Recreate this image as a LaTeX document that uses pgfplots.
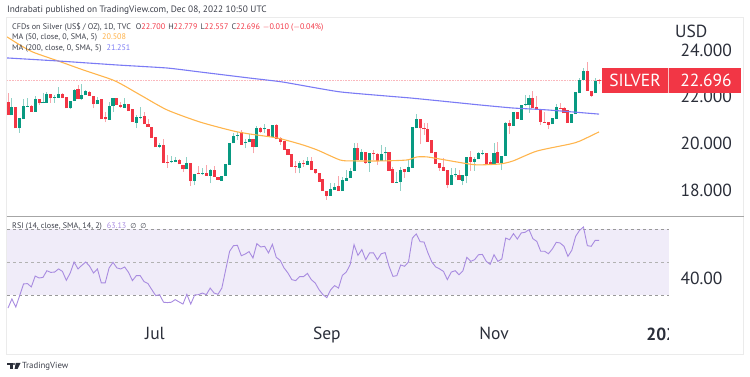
\documentclass[border=0pt]{standalone}
\usepackage{fontspec}
\usepackage{pgfplots}
\usepackage{pgfplotstable}
\pgfplotsset{compat=1.18}
\setmainfont{PT Sans}
\newfontfamily\symf{DejaVu Sans}
\definecolor{tvgreen}{HTML}{089981}
\definecolor{tvred}{HTML}{F23645}
\definecolor{maorange}{HTML}{FFB54D}
\definecolor{mablue}{HTML}{7B7BF5}
\definecolor{rsiline}{HTML}{A88BE0}
\definecolor{rsiband}{HTML}{F0ECF9}
\definecolor{txt}{HTML}{3C3F4A}
\definecolor{dark}{HTML}{2A2E39}
\pgfplotstableread{
i o h l c
2 21.22 21.96 21.22 21.58
4 20.65 21.08 20.47 21.08
5 21.05 21.89 21.05 21.61
6 21.58 21.93 21.55 21.62
8 21.37 22.03 21.37 21.89
10 21.72 22.18 21.72 21.79
11 21.75 22.19 21.75 22.11
13 21.96 22.08 21.75 22.01
14 21.96 22.43 21.96 22.12
17 21.51 21.82 21.48 21.82
18 21.81 22.32 21.81 22.29
20 21.89 22.55 21.86 22.08
21 22.06 22.29 22.06 22.25
24 21.68 21.98 21.68 21.86
27 21.01 21.79 21.01 21.61
28 21.61 21.95 21.37 21.93
31 21.54 21.93 21.54 21.69
34 20.90 21.22 20.65 21.12
35 21.11 21.55 21.05 21.15
40 19.87 20.01 19.80 19.94
43 19.20 19.48 19.17 19.26
44 19.23 19.44 19.20 19.30
47 18.90 19.41 18.90 19.19
49 18.40 18.70 18.23 18.70
51 18.70 18.94 18.66 18.76
53 18.63 18.90 18.30 18.87
56 18.42 18.63 18.42 18.63
57 18.62 19.11 18.62 19.11
58 19.09 20.01 19.09 20.01
59 20.01 20.44 20.01 20.34
60 20.33 20.51 20.15 20.37
62 20.01 20.18 19.80 20.05
63 20.05 20.41 20.05 20.18
65 19.84 20.75 19.84 20.65
67 20.61 20.84 20.44 20.65
69 20.27 20.80 20.27 20.80
76 18.94 19.27 18.73 19.16
78 19.09 19.44 19.09 19.27
84 17.78 18.30 17.78 18.05
85 18.02 18.33 18.02 18.16
87 17.97 18.59 17.97 18.44
88 18.42 18.87 18.42 18.54
89 18.52 18.94 18.52 18.84
90 18.83 20.04 18.83 19.83
92 19.30 19.76 19.30 19.66
94 19.16 19.61 18.80 19.61
97 19.26 19.94 19.26 19.55
98 19.58 19.87 19.26 19.65
101 18.34 18.80 18.34 18.37
102 18.34 19.01 17.99 18.87
104 18.80 19.30 18.80 18.99
105 18.97 20.70 18.97 20.70
106 20.65 21.27 20.65 21.05
115 18.23 18.94 18.23 18.66
116 18.64 18.94 18.56 18.70
118 18.42 18.66 18.23 18.66
119 18.62 19.41 18.30 19.41
121 19.23 19.44 18.83 19.34
122 19.33 19.65 19.33 19.58
123 19.57 19.73 19.50 19.61
126 19.11 20.04 19.11 19.61
128 19.17 19.47 18.87 19.47
129 19.47 20.94 19.47 20.87
131 20.77 21.33 20.77 21.33
133 21.01 21.65 21.01 21.65
134 21.65 22.08 21.60 21.69
135 21.65 22.08 21.32 21.96
141 20.82 21.08 20.82 21.08
142 21.05 21.68 21.05 21.55
146 20.89 21.25 20.89 21.25
147 21.25 22.19 21.25 22.19
148 22.15 22.82 22.15 22.72
149 22.72 23.22 22.72 23.10
152 22.16 22.79 22.16 22.67
}\upc
\pgfplotstableread{
i o h l c
1 21.79 22.15 21.22 21.22
3 21.58 21.58 20.65 20.65
7 21.61 21.63 21.35 21.37
9 21.91 21.91 21.65 21.72
12 22.11 22.13 21.75 21.93
15 22.12 22.15 21.93 21.96
16 21.98 21.98 21.51 21.51
19 22.32 22.50 21.89 21.89
22 22.22 22.25 22.03 22.03
23 22.03 22.03 21.51 21.68
25 21.89 21.89 21.04 21.04
26 21.12 21.37 20.91 21.04
29 21.93 21.95 21.65 21.65
30 21.65 21.79 21.54 21.58
32 21.69 21.71 21.39 21.39
33 21.46 21.46 20.94 20.94
36 21.18 21.34 20.82 20.82
37 20.82 21.05 20.70 20.70
38 20.72 20.72 20.25 20.25
39 20.30 20.30 19.84 19.84
41 19.94 20.18 19.19 19.19
42 19.23 19.51 18.97 19.19
45 19.30 19.33 19.11 19.11
46 19.09 19.09 18.80 18.90
48 19.19 19.19 18.19 18.40
50 18.74 19.04 18.70 18.70
52 18.76 19.09 18.63 18.63
54 18.87 19.04 18.59 18.59
55 18.59 18.59 18.43 18.45
61 20.51 20.58 19.94 19.94
64 20.18 20.18 19.58 19.87
66 20.65 20.72 20.44 20.51
68 20.61 20.61 20.30 20.30
70 20.80 20.83 20.18 20.18
71 20.23 20.30 19.94 20.08
72 20.13 20.13 19.73 19.73
73 19.76 19.76 19.51 19.51
74 19.54 19.54 19.01 19.01
75 19.04 19.27 18.73 18.99
77 19.19 19.30 19.01 19.11
79 19.26 19.44 18.87 18.87
80 18.90 18.90 18.70 18.73
81 18.76 18.76 18.37 18.37
82 18.49 18.49 17.97 17.97
83 17.99 17.99 17.59 17.76
86 18.19 18.61 17.97 17.97
91 19.80 20.01 19.30 19.30
93 19.66 19.66 19.13 19.16
95 19.61 19.73 19.30 19.56
96 19.55 19.58 19.09 19.26
99 19.65 19.65 18.84 18.84
100 18.90 19.01 18.33 18.33
103 18.91 18.91 18.52 18.80
107 21.05 21.05 19.97 20.65
108 20.65 20.89 20.37 20.61
109 20.62 20.87 20.08 20.08
110 20.15 20.15 19.58 19.58
111 19.65 19.65 19.13 19.13
112 19.16 19.16 18.84 18.97
113 19.01 19.37 18.84 18.84
114 18.87 18.87 18.09 18.23
117 18.66 18.87 18.44 18.44
120 19.41 19.68 18.83 19.23
124 19.61 19.61 19.11 19.11
125 19.23 19.30 19.08 19.11
127 19.63 20.08 19.19 19.19
130 20.87 21.01 20.41 20.77
132 21.36 21.36 21.04 21.04
136 21.96 22.25 21.51 21.51
137 21.55 22.05 21.44 21.44
138 21.46 21.46 20.80 20.94
139 20.94 21.33 20.89 20.89
140 20.94 20.94 20.62 20.80
143 21.54 21.72 21.49 21.49
144 21.51 21.58 21.29 21.29
145 21.43 21.43 20.89 20.89
150 23.10 23.50 22.25 22.25
151 22.25 22.25 22.00 22.05
153 22.700 22.779 22.557 22.696
}\downc
\pgfplotstableread{
i v
1 22.1
2 27.6
3 22.7
4 29.6
5 36.7
6 36.9
7 34.9
8 41.5
9 40.3
10 40.7
11 44.7
12 43.7
13 43.9
14 45.8
15 44.3
16 38.9
17 43.3
18 50
19 45.8
20 48
21 50
22 47.4
23 43.3
24 45.8
25 37.3
26 37.3
27 46.4
28 49.8
29 46.4
30 45.8
31 47
32 43.7
33 38.7
34 41.7
35 41.7
36 38.1
37 36.9
38 33.2
39 29.6
40 30.2
41 25.6
42 25.4
43 25.6
44 27.2
45 25.8
46 24.5
47 30.4
48 24.5
49 30
50 30.2
51 31.2
52 30.2
53 34.2
54 31.2
55 30.4
56 34.2
57 45.4
58 56.5
59 59.9
60 60.1
61 53.8
62 54.8
63 56.3
64 52.4
65 61.1
66 59.1
67 59.5
68 55.5
69 60.7
70 52.8
71 51
72 46.4
73 43.3
74 39.3
75 38.7
76 41.1
77 41.1
78 43.1
79 39.3
80 37.3
81 33.2
82 30.2
83 28.4
84 33.2
85 35.7
86 34.2
87 41.9
88 43.9
89 48.4
90 60.5
91 54
92 57.5
93 51.4
94 55.5
95 55.5
96 51.4
97 55
98 55.7
99 47.4
100 41.3
101 41.7
102 48.2
103 47.4
104 50
105 64.5
106 67
107 62.3
108 62.1
109 55.5
110 50
111 47
112 45.8
113 44.3
114 39.3
115 43.9
116 44.7
117 42.3
118 44.7
119 52.8
120 50.4
121 51.4
122 54.4
123 54.6
124 50.4
125 48.6
126 54.4
127 50.4
128 51.8
129 64.5
130 63.5
131 67.2
132 63.9
133 67.6
134 68
135 69.6
136 64.1
137 62.5
138 56.5
139 56.5
140 55
141 57.9
142 61.9
143 61.5
144 59.5
145 53.4
146 57.1
147 65.6
148 69.2
149 71.2
150 59.9
151 59.5
152 63.1
153 63.13
}\rsi
\begin{document}
\begin{tikzpicture}[x=1pt,y=1pt]
\path[use as bounding box] (0,0) rectangle (750,377);
% panel frame
\draw[color=black!8,line width=.7pt] (6.5,23) rectangle (743.5,360);
\node[anchor=west,inner sep=0pt,font=\fontsize{9.3}{10}\selectfont,text=txt] at (7,367) {Indrabati published on TradingView.com, Dec 08, 2022 10:50 UTC};
% price pane
\begin{axis}[
  at={(7pt,161pt)},anchor=south west,scale only axis,
  width=662pt,height=199pt,
  xmin=0.743,xmax=171,ymin=16.906,ymax=25.41,
  axis line style={draw=none},tick style={draw=none},
  xtick=\empty,
  ytick={18,20,22,24},yticklabels={18.000,20.000,22.000,24.000},
  yticklabel pos=right,
  yticklabel style={font=\fontsize{17.5}{18}\selectfont,text=dark,anchor=west,xshift=8pt},
]
\addplot[draw=tvred!35,line width=.6pt,densely dotted] coordinates {(0.743,22.696) (171,22.696)};
\addplot[draw=none,mark=none,error bars/.cd,y dir=plus,y explicit,error mark=none,error bar style={line width=.9pt,draw=tvgreen!45!white}]
  table[x=i,y=l,y error plus expr=\thisrow{h}-\thisrow{l}] {\upc};
\addplot[draw=none,mark=none,error bars/.cd,y dir=plus,y explicit,error mark=none,error bar style={line width=.9pt,draw=tvred!45!white}]
  table[x=i,y=l,y error plus expr=\thisrow{h}-\thisrow{l}] {\downc};
\addplot[draw=none,mark=none,error bars/.cd,y dir=plus,y explicit,error mark=none,error bar style={line width=3.1pt,draw=tvgreen}]
  table[x=i,y=o,y error plus expr=\thisrow{c}-\thisrow{o}] {\upc};
\addplot[draw=none,mark=none,error bars/.cd,y dir=plus,y explicit,error mark=none,error bar style={line width=3.1pt,draw=tvred}]
  table[x=i,y=c,y error plus expr=\thisrow{o}-\thisrow{c}] {\downc};
\addplot[maorange,line width=1.1pt,smooth,tension=.4] coordinates {
(0.75,24.56) (4.1,24.21) (7.4,23.91) (13.9,23.53) (20.3,23.15) (28.5,22.68) (35,22.08) (41.9,21.44) (50.4,20.92) (58.9,20.54) (63.2,20.41) (70.2,20.24) (76.1,19.98) (80.5,19.73) (86.4,19.30) (89.7,19.26) (97.5,19.26) (103.6,19.30) (106.2,19.43) (108.8,19.43) (112.1,19.34) (118,19.17) (121.6,19.09) (127.5,19.13) (130.9,19.26) (137,19.68) (145.5,19.98) (148.1,20.11) (153,20.50)};
\addplot[mablue,line width=1.1pt,smooth,tension=.3] coordinates {
(0.75,23.66) (13.9,23.53) (29,23.36) (41.9,23.23) (50.4,23.06) (63.2,22.80) (71.7,22.63) (86.4,22.21) (104.4,21.95) (114.7,21.78) (122.4,21.65) (130.9,21.52) (139.6,21.44) (153,21.26)};
\end{axis}
% RSI pane
\begin{axis}[
  at={(7pt,55pt)},anchor=south west,scale only axis,
  width=662pt,height=105pt,
  xmin=0.743,xmax=171,ymin=13.636,ymax=77.27,
  axis line style={draw=none},tick style={draw=none},
  xtick={38.8,83,126,169},xticklabels={Jul,Sep,Nov,\textbf{202}},
  xticklabel style={font=\fontsize{17.5}{18}\selectfont,text=dark,yshift=-2pt},
  ytick={40},yticklabels={40.00},
  yticklabel pos=right,
  yticklabel style={font=\fontsize{17.5}{18}\selectfont,text=dark,anchor=west,xshift=8pt},
]
\addplot[draw=none,fill=rsiband] coordinates {(0.743,30) (171,30) (171,70) (0.743,70)} -- cycle;
\addplot[black!40,line width=.6pt,dashed] coordinates {(0.743,70) (171,70)};
\addplot[black!30,line width=.6pt,dashed] coordinates {(0.743,50) (171,50)};
\addplot[black!40,line width=.6pt,dashed] coordinates {(0.743,30) (171,30)};
\addplot[rsiline,line width=.9pt] table[x=i,y=v] {\rsi};
\end{axis}
% the date scale is cut off where the price scale starts
\fill[white] (669,30) rectangle (678,54);
% pane separator
\draw[color=black!35,line width=.8pt] (6.5,160.5) -- (743.5,160.5);
% legends
\node[anchor=west,inner sep=0pt,font=\fontsize{8.1}{10}\selectfont,text=txt] at (12,350) {CFDs on Silver (US\$ / OZ), 1D, TVC\hspace{5pt}O\textcolor{tvred}{22.700}\hspace{3pt}H\textcolor{tvred}{22.779}\hspace{3pt}L\textcolor{tvred}{22.557}\hspace{3pt}C\textcolor{tvred}{22.696}\hspace{3pt}\textcolor{tvred}{$-$0.010 ($-$0.04\%)}};
\node[anchor=west,inner sep=0pt,font=\fontsize{8.1}{10}\selectfont,text=txt] at (12,339) {MA (50, close, 0, SMA, 5)\hspace{5pt}\textcolor{maorange!90!orange}{20.508}};
\node[anchor=west,inner sep=0pt,font=\fontsize{8.1}{10}\selectfont,text=txt] at (12,328.5) {MA (200, close, 0, SMA, 5)\hspace{5pt}\textcolor{mablue}{21.251}};
\node[anchor=west,inner sep=0pt,font=\fontsize{8.1}{10}\selectfont,text=txt] at (12,150) {RSI (14, close, SMA, 14, 2)\hspace{5pt}\textcolor{rsiline}{63.13}\hspace{4pt}{\symf\fontsize{7}{9}\selectfont ∅\hspace{4pt}∅}};
% axis unit
\node[anchor=west,inner sep=0pt,font=\fontsize{17.5}{18}\selectfont,text=dark] at (675,346) {USD};
% silver badge
\fill[tvred] (602,284) rectangle (741,309);
\draw[white!70!tvred,line width=.5pt] (668.5,284) -- (668.5,309);
\node[font=\fontsize{17.5}{18}\selectfont,text=white,inner sep=0pt] at (635,296.3) {SILVER};
\node[font=\fontsize{17.5}{18}\selectfont,text=white,inner sep=0pt] at (706,296.3) {22.696};
% logo
\fill[color=dark] (7,14) rectangle (13,12.2);
\fill[color=dark] (9.6,14) rectangle (13,8);
\fill[color=dark] (14,12.9) circle (1.1);
\fill[color=dark] (15.8,14) -- (20.6,14) -- (17.6,8) -- (14.6,8) -- cycle;
\node[anchor=west,inner sep=0pt,font=\fontsize{8.8}{10}\selectfont,text=txt] at (22,11) {TradingView};
\end{tikzpicture}
\end{document}
